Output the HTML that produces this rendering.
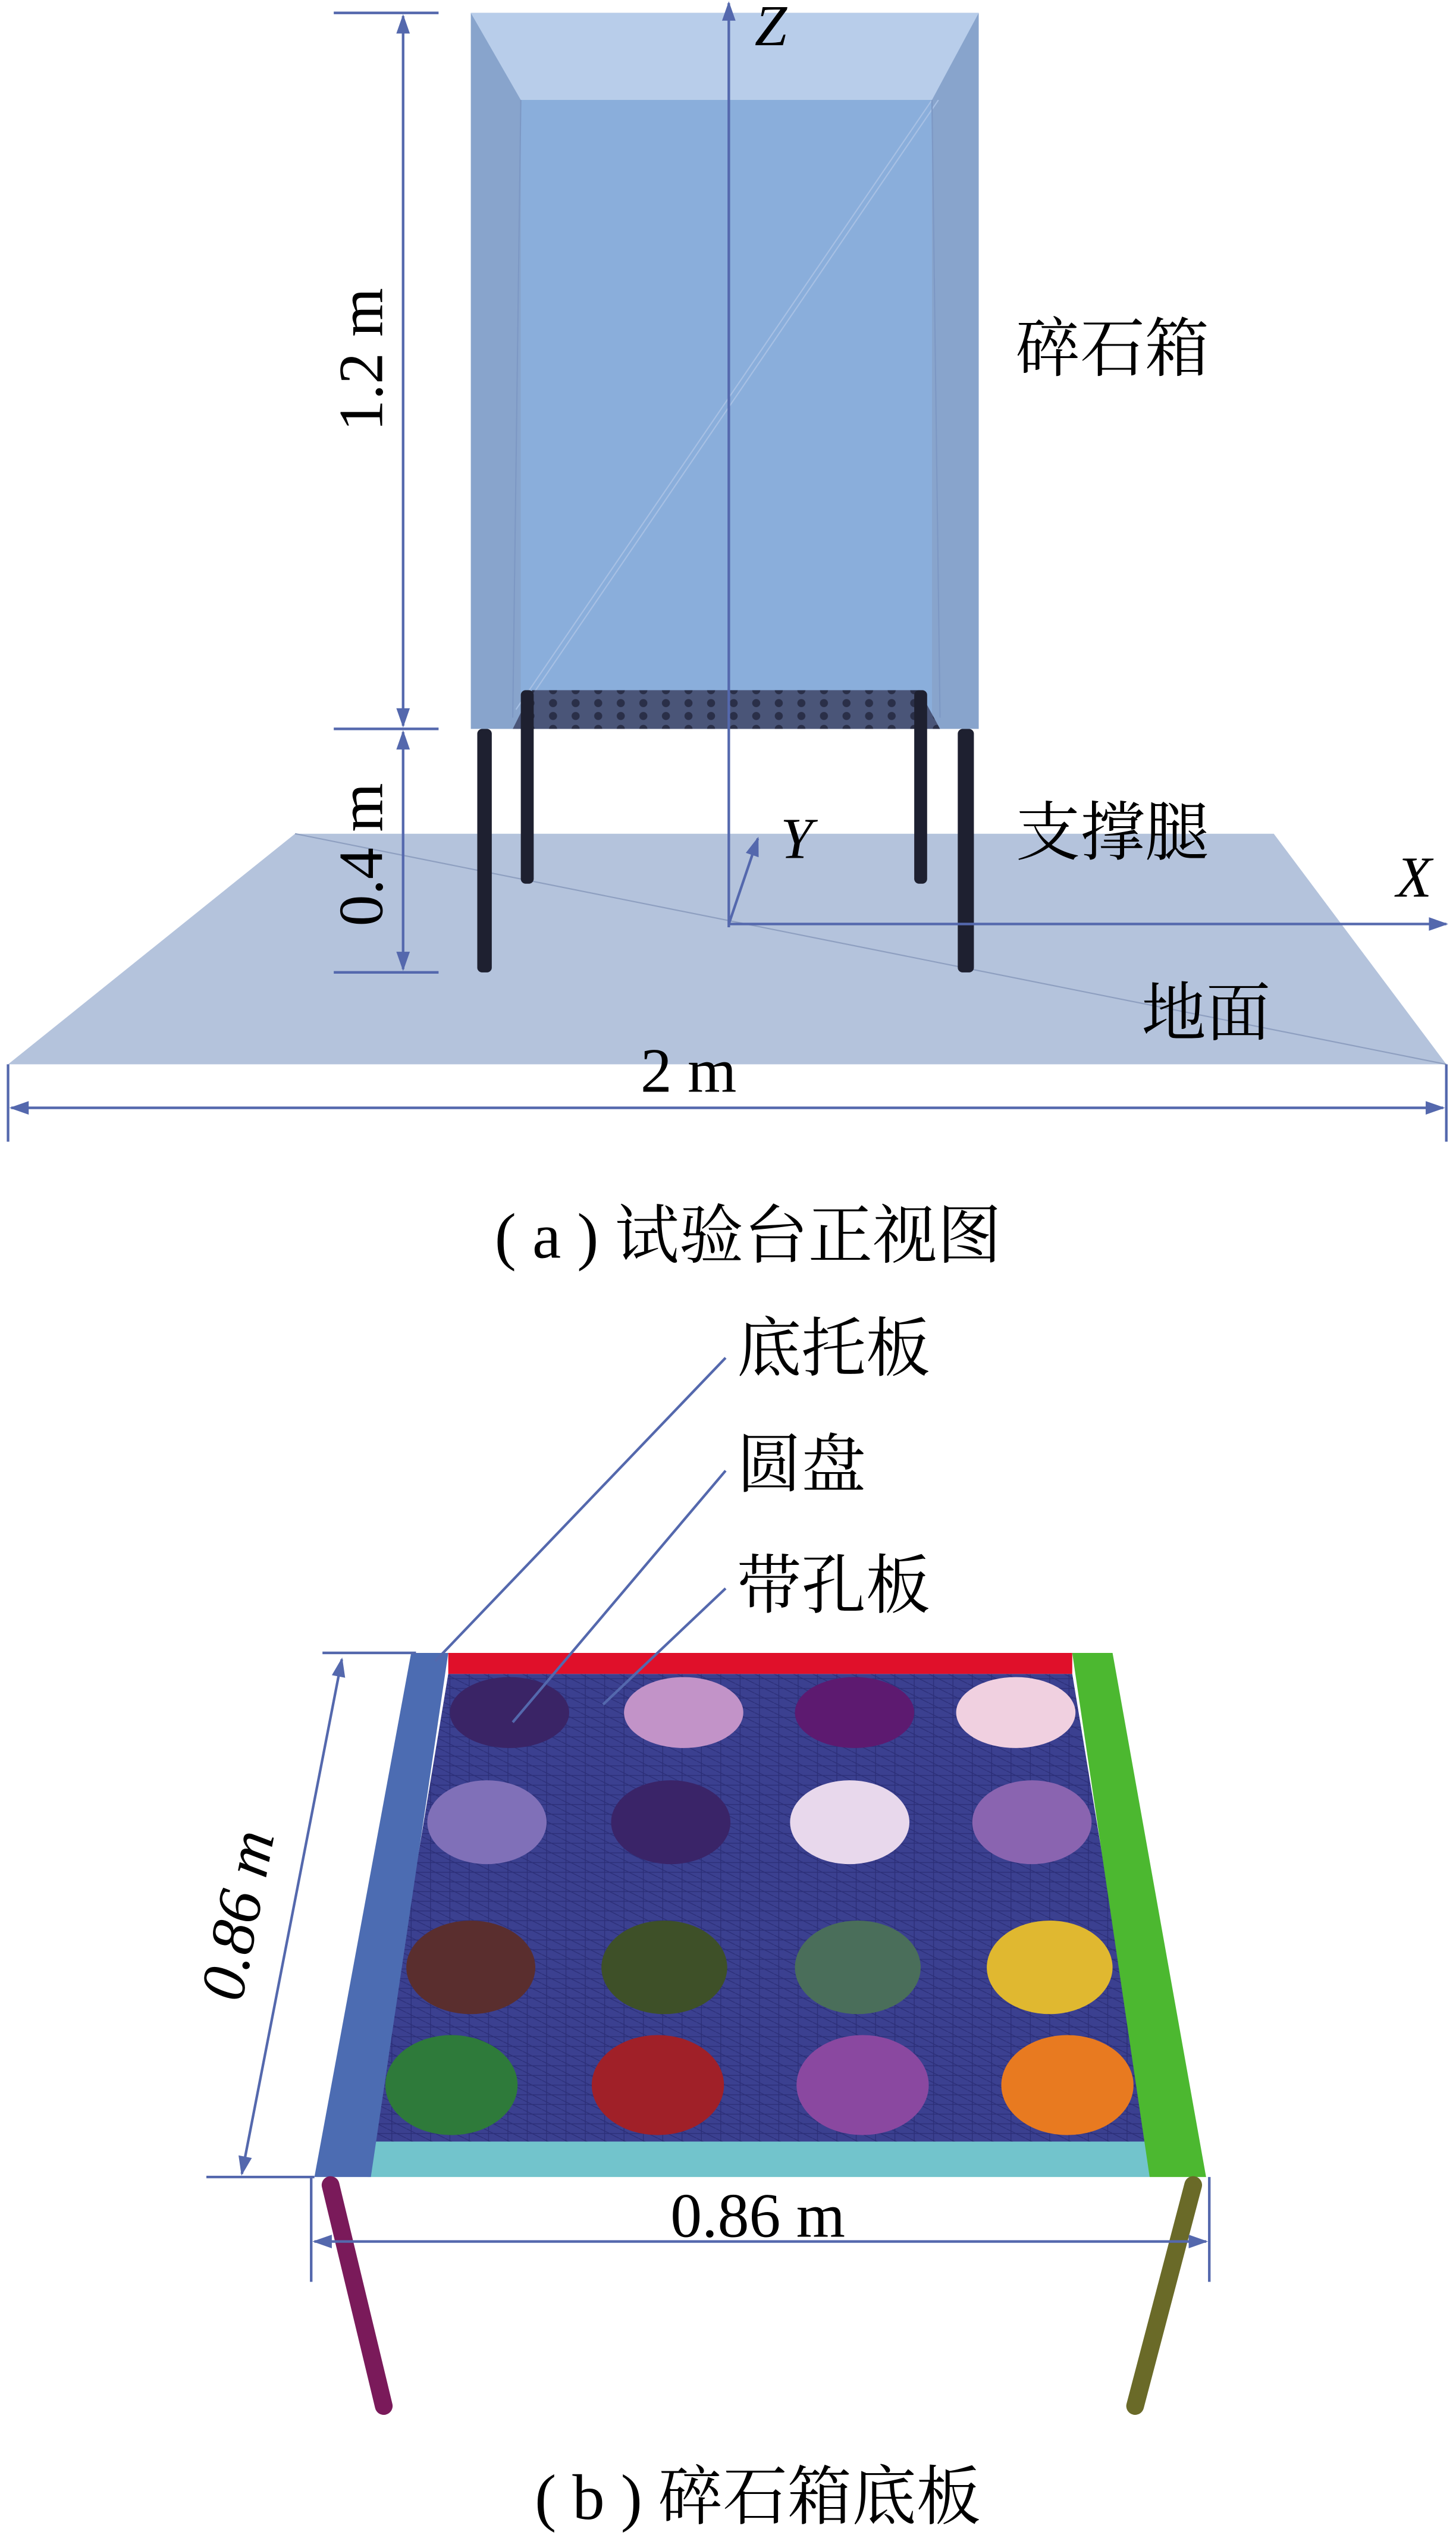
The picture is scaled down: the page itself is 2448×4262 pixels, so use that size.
<!DOCTYPE html>
<html><head><meta charset="utf-8"><style>
html,body{margin:0;padding:0;background:#fff;}
svg{display:block;}
text{font-family:"Liberation Serif","Noto Serif CJK SC","Noto Sans CJK SC",serif;fill:#000;}
</style></head><body>
<svg width="2448" height="4262" viewBox="0 0 903 1572" preserveAspectRatio="none" xmlns="http://www.w3.org/2000/svg">
<defs>
<marker id="ar2" viewBox="0 0 10 10" refX="9" refY="5" markerWidth="18" markerHeight="12" orient="auto-start-reverse" markerUnits="userSpaceOnUse">
<path d="M0,1.5 L10,5 L0,8.5 Z" fill="#5468ad"/></marker>
<pattern id="mesh" width="12" height="6" patternUnits="userSpaceOnUse">
<rect width="12" height="6" fill="#3b4090"/>
<path d="M0,3 H12 M3,0 V6 M0,0 L12,6" stroke="#2c2f78" stroke-width="0.5"/>
</pattern>
<pattern id="grid" width="14" height="8" patternUnits="userSpaceOnUse">
<rect width="14" height="8" fill="#4a5578"/>
<circle cx="7" cy="4" r="2.5" fill="#2a2f48"/>
</pattern>
</defs>

<polygon points="183,517 790,517 897,660 5,660" fill="#b4c3dc"/>
<line x1="183" y1="517" x2="897" y2="660" stroke="#8e9fc0" stroke-width="0.8"/>

<rect x="292" y="8" width="315" height="444" fill="#88a4cc"/>
<polygon points="292,8 607,8 578,62 323,62" fill="#b8cdea"/>
<rect x="323" y="62" width="255" height="385" fill="#8aaedb"/>
<line x1="578" y1="62" x2="320" y2="440" stroke="#a7c0e4" stroke-width="0.8"/>
<line x1="582" y1="62" x2="324" y2="440" stroke="#a7c0e4" stroke-width="0.8"/>
<line x1="323" y1="62" x2="318" y2="445" stroke="#7d98c4" stroke-width="0.8"/>
<line x1="578" y1="62" x2="583" y2="445" stroke="#7d98c4" stroke-width="0.8"/>
<polygon points="330,428 570,428 583,452 318,452" fill="url(#grid)"/>

<rect x="296" y="452" width="9" height="151" rx="3" fill="#1e2030"/>
<rect x="594" y="452" width="10" height="151" rx="3" fill="#1e2030"/>
<rect x="323" y="428" width="8" height="120" rx="3" fill="#1e2030"/>
<rect x="567" y="428" width="8" height="120" rx="3" fill="#1e2030"/>

<g stroke="#5468ad" stroke-width="1.6" fill="none">
<line x1="207" y1="8" x2="272" y2="8"/>
<line x1="207" y1="452" x2="272" y2="452"/>
<line x1="207" y1="603" x2="272" y2="603"/>
<line x1="250" y1="10" x2="250" y2="450" marker-start="url(#ar2)" marker-end="url(#ar2)"/>
<line x1="250" y1="454" x2="250" y2="601" marker-start="url(#ar2)" marker-end="url(#ar2)"/>
<line x1="452" y1="575" x2="452" y2="2" marker-end="url(#ar2)"/>
<line x1="452" y1="573" x2="897" y2="573" marker-end="url(#ar2)"/>
<line x1="452" y1="573" x2="470" y2="520" marker-end="url(#ar2)"/>
<line x1="5" y1="660" x2="5" y2="708"/>
<line x1="897" y1="660" x2="897" y2="708"/>
<line x1="7" y1="687" x2="895" y2="687" marker-start="url(#ar2)" marker-end="url(#ar2)"/>
</g>
<text x="237" y="223" font-size="39" text-anchor="middle" transform="rotate(-90 237 223)">1.2 m</text>
<text x="237" y="530" font-size="39" text-anchor="middle" transform="rotate(-90 237 530)">0.4 m</text>
<text x="468" y="28" font-size="36" font-style="italic">Z</text>
<text x="484" y="532" font-size="36" font-style="italic">Y</text>
<text x="866" y="556" font-size="36" font-style="italic">X</text>
<text x="427" y="677" font-size="39" text-anchor="middle">2 m</text>
<text x="630" y="230" font-size="40">碎石箱</text>
<text x="630" y="530" font-size="40">支撑腿</text>
<text x="708" y="642" font-size="40">地面</text>
<text x="464" y="780" font-size="40" text-anchor="middle">( a ) 试验台正视图</text>

<polygon points="278,1038 665,1038 713,1328 230,1328" fill="url(#mesh)"/>
<polygon points="278,1025 665,1025 665,1038 278,1038" fill="#e0102a"/>
<polygon points="230,1328 713,1328 713,1350 228,1350" fill="#72c4cc"/>
<polygon points="255,1025 278,1025 230,1350 195,1350" fill="#4c6cb2"/>
<polygon points="665,1025 690,1025 748,1350 713,1350" fill="#4cb830"/>

<g>
<ellipse cx="316" cy="1062" rx="37" ry="22" fill="#3a2466"/>
<ellipse cx="424" cy="1062" rx="37" ry="22" fill="#c293c8"/>
<ellipse cx="530" cy="1062" rx="37" ry="22" fill="#5d1a70"/>
<ellipse cx="630" cy="1062" rx="37" ry="22" fill="#f0d0e0"/>
<ellipse cx="302" cy="1130" rx="37" ry="26" fill="#8070b8"/>
<ellipse cx="416" cy="1130" rx="37" ry="26" fill="#3a2468"/>
<ellipse cx="527" cy="1130" rx="37" ry="26" fill="#e8d8ec"/>
<ellipse cx="640" cy="1130" rx="37" ry="26" fill="#8a64b0"/>
<ellipse cx="292" cy="1220" rx="40" ry="29" fill="#5a2e2e"/>
<ellipse cx="412" cy="1220" rx="39" ry="29" fill="#3e5028"/>
<ellipse cx="532" cy="1220" rx="39" ry="29" fill="#4a6e5a"/>
<ellipse cx="651" cy="1220" rx="39" ry="29" fill="#e0b830"/>
<ellipse cx="280" cy="1293" rx="41" ry="31" fill="#2e7a3a"/>
<ellipse cx="408" cy="1293" rx="41" ry="31" fill="#a02028"/>
<ellipse cx="535" cy="1293" rx="41" ry="31" fill="#8a48a0"/>
<ellipse cx="662" cy="1293" rx="41" ry="31" fill="#e87a20"/>
</g>

<line x1="205" y1="1355" x2="238" y2="1492" stroke="#7a1a5a" stroke-width="11" stroke-linecap="round"/>
<line x1="740" y1="1355" x2="704" y2="1492" stroke="#6a6a28" stroke-width="11" stroke-linecap="round"/>

<g stroke="#5468ad" stroke-width="1.6" fill="none">
<line x1="450" y1="842" x2="270" y2="1030"/>
<line x1="450" y1="912" x2="318" y2="1068"/>
<line x1="450" y1="985" x2="374" y2="1057"/>
<line x1="200" y1="1025" x2="258" y2="1025"/>
<line x1="128" y1="1350" x2="195" y2="1350"/>
<line x1="212" y1="1029" x2="150" y2="1348" marker-start="url(#ar2)" marker-end="url(#ar2)"/>
<line x1="193" y1="1350" x2="193" y2="1415"/>
<line x1="750" y1="1350" x2="750" y2="1415"/>
<line x1="195" y1="1390" x2="748" y2="1390" marker-start="url(#ar2)" marker-end="url(#ar2)"/>
</g>
<text x="457" y="850" font-size="40">底托板</text>
<text x="457" y="922" font-size="40">圆盘</text>
<text x="457" y="997" font-size="40">带孔板</text>
<text x="160" y="1190" font-size="39" font-style="italic" text-anchor="middle" transform="rotate(-79 160 1190)">0.86 m</text>
<text x="470" y="1387" font-size="39" text-anchor="middle">0.86 m</text>
<text x="470" y="1562" font-size="40" text-anchor="middle">( b ) 碎石箱底板</text>
</svg>
</body></html>
